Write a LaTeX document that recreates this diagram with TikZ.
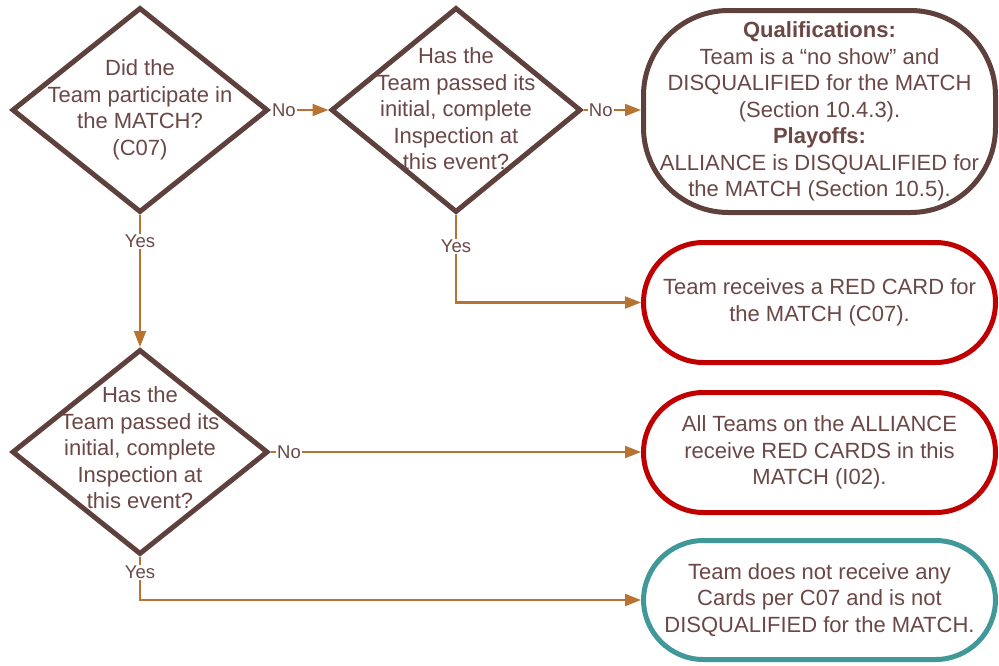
\documentclass[tikz,border=0pt]{standalone}
\usepackage{fontspec}
\setmainfont{Liberation Sans}
\usetikzlibrary{shapes.geometric,arrows.meta}
\definecolor{txtc}{RGB}{107,72,70}
\definecolor{brd}{RGB}{94,64,60}
\definecolor{arrc}{RGB}{184,115,51}
\definecolor{redc}{RGB}{192,0,0}
\definecolor{tealc}{RGB}{64,152,152}
\begin{document}
\begin{tikzpicture}[x=1pt,y=-1pt,
  dia/.style={draw=brd, line width=5pt, shape=diamond, fill=white, minimum width=256pt, minimum height=205pt, inner sep=0pt},
  txt/.style={text=txtc, align=center, font=\fontsize{22}{26.5}\selectfont},
  outbox/.style={line width=5pt, rounded corners=60pt, minimum width=352pt, fill=white, inner sep=2pt, text=txtc, align=center, font=\fontsize{22}{26.5}\selectfont},
  conn/.style={draw=arrc, line width=2.2pt, -{Triangle[length=16pt,width=12pt]}},
  lbl/.style={fill=white, text=txtc, font=\fontsize{18.5}{21}\selectfont, inner sep=1.2pt}]
\useasboundingbox (0,0) rectangle (999,665);
% decision diamonds
\node[dia] (d1) at (140,110) {};
\node[txt] (t1) at (d1.center) {Did the\\Team participate in\\the MATCH?\\(C07)};
\node[dia, minimum width=250pt] (d2) at (456,110) {};
\node[txt] (t2) at (456,109) {Has the\\Team passed its\\initial, complete\\Inspection at\\this event?};
\node[dia] (d3) at (140,452) {};
\node[txt] (t3) at (140,448) {Has the\\Team passed its\\initial, complete\\Inspection at\\this event?};
% outcome boxes
\node[outbox, draw=brd, minimum height=202pt, rounded corners=85pt] (b1) at (819.5,111.5) {\textbf{Qualifications:}\\Team is a “no show” and\\DISQUALIFIED for the MATCH\\(Section 10.4.3).\\\textbf{Playoffs:}\\ALLIANCE is DISQUALIFIED for\\the MATCH (Section 10.5).};
\node[outbox, draw=redc, minimum height=120pt] (b2) at (819.5,302.5) {Team receives a RED CARD for\\the MATCH (C07).};
\node[outbox, draw=redc, minimum height=120pt] (b3) at (819.5,452.5) {All Teams on the ALLIANCE\\receive RED CARDS in this\\MATCH (I02).};
\node[outbox, draw=tealc, minimum height=119pt] (b4) at (819.5,600) {Team does not receive any\\Cards per C07 and is not\\DISQUALIFIED for the MATCH.};
% connectors
\draw[conn] (d1.east) -- node[lbl, pos=0.23] {No} (d2.west);
\draw[conn] (d2.east) -- node[lbl, pos=0.3] {No} (d2.east -| b1.west);
\draw[conn] (d1.south) -- node[lbl, pos=0.2] {Yes} (d3.north);
\draw[conn] (d2.south) |- node[lbl, pos=0.18] {Yes} (b2.west);
\draw[conn] (d3.east) -- node[lbl, pos=0.05] {No} (d3.east -| b3.west);
\draw[conn] (d3.south) |- node[lbl, pos=0.18] {Yes} (b4.west);
\end{tikzpicture}
\end{document}
